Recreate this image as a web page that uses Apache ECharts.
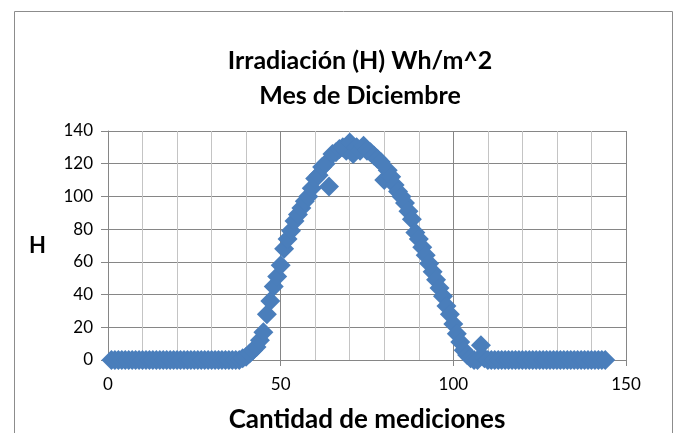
<!DOCTYPE html>
<html>
<head>
<meta charset="utf-8">
<script src="https://cdn.jsdelivr.net/npm/echarts@6/dist/echarts.min.js"></script>
<style>
  html, body { margin: 0; padding: 0; background: #fff; }
  #chart { width: 683px; height: 433px; }
</style>
</head>
<body>
<div id="chart"></div>
<script>
// irradiance readings, one per measurement (index 1..144)
var irradiacion = [
  0, 0, 0, 0, 0, 0, 0, 0, 0, 0,
  0, 0, 0, 0, 0, 0, 0, 0, 0, 0,
  0, 0, 0, 0, 0, 0, 0, 0, 0, 0,
  0, 0, 0, 0, 0, 0, 0, 0, 1, 2,
  4, 6, 8, 12, 17, 28, 36, 45, 51, 58,
  68, 74, 79, 85, 89, 93, 97, 100, 105, 111,
  113, 118, 120, 106, 126, 127, 129, 130, 128, 133,
  126, 130, 128, 131, 128, 127, 125, 123, 121, 110,
  116, 112, 107, 103, 100, 96, 91, 86, 78, 74,
  69, 64, 59, 54, 49, 44, 39, 33, 28, 22,
  16, 11, 6, 3, 1, 0, 0, 9, 1, 0,
  0, 0, 0, 0, 0, 0, 0, 0, 0, 0,
  0, 0, 0, 0, 0, 0, 0, 0, 0, 0,
  0, 0, 0, 0, 0, 0, 0, 0, 0, 0,
  0, 0, 0, 0
];
var xTicks = [0, 50, 100, 150];
var yTicks = [0, 20, 40, 60, 80, 100, 120, 140];

var points = irradiacion.map(function (v, i) { return [i + 1, v]; });

var chart = echarts.init(document.getElementById('chart'));
chart.setOption({
    animation: false,
    textStyle: { fontFamily: 'Lato' },
    title: {
        text: 'Irradiación (H) Wh/m^2\nMes de Diciembre',
        left: 355,
        textAlign: 'center',
        top: 38,
        textStyle: {
            fontFamily: 'Lato',
            fontSize: 25,
            fontWeight: 'bold',
            color: '#000',
            lineHeight: 35
        }
    },
    graphic: [{
        type: 'rect',
        shape: { x: 14.5, y: 11.5, width: 658, height: 440 },
        style: { fill: 'none', stroke: '#8c8c8c', lineWidth: 1 },
        silent: true
    }],
    grid: {
        left: 108,
        right: 57,
        top: 131,
        bottom: 73,
        outerBoundsMode: 'none',
        containLabel: false
    },
    xAxis: {
        type: 'value',
        min: xTicks[0],
        max: xTicks[xTicks.length - 1],
        interval: 50,
        name: 'Cantidad de mediciones',
        nameLocation: 'middle',
        nameGap: 47,
        nameTextStyle: {
            fontFamily: 'Lato',
            fontSize: 26,
            fontWeight: 'bold',
            color: '#000'
        },
        axisLine: { show: true, lineStyle: { color: '#868686', width: 1 } },
        axisTick: { show: true, length: 6, lineStyle: { color: '#868686' } },
        axisLabel: {
            margin: 16,
            fontSize: 17,
            color: '#000',
            fontFamily: 'Lato'
        },
        splitLine: { show: true, lineStyle: { color: '#868686', width: 1 } },
        minorTick: { show: false, splitNumber: 5 },
        minorSplitLine: { show: true, lineStyle: { color: '#c4c4c4', width: 1 } }
    },
    yAxis: {
        type: 'value',
        min: yTicks[0],
        max: yTicks[yTicks.length - 1],
        interval: 20,
        name: 'H',
        nameLocation: 'middle',
        nameRotate: 0,
        nameGap: 62,
        nameTextStyle: {
            fontFamily: 'Lato',
            fontSize: 22,
            fontWeight: 'bold',
            color: '#000'
        },
        axisLine: { show: true, lineStyle: { color: '#868686', width: 1 } },
        axisTick: { show: true, length: 7, lineStyle: { color: '#868686' } },
        axisLabel: {
            margin: 15,
            fontSize: 17,
            color: '#000',
            fontFamily: 'Lato'
        },
        splitLine: { show: true, lineStyle: { color: '#868686', width: 1 } }
    },
    series: [{
        name: 'H',
        type: 'scatter',
        symbol: 'diamond',
        symbolSize: 20,
        data: points,
        itemStyle: {
            color: '#4a7ebb',
            opacity: 1
        }
    }]
});
</script>
</body>
</html>
